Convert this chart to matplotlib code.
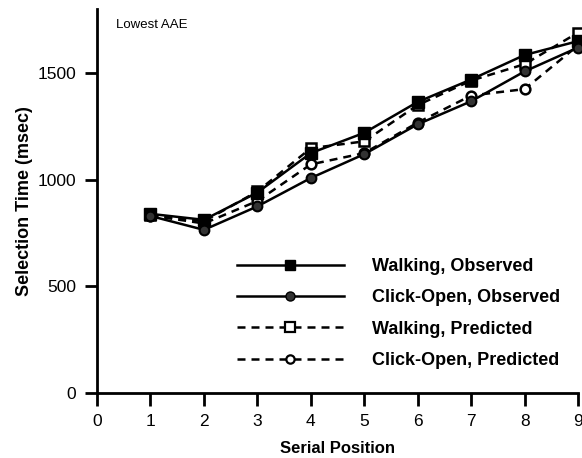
import matplotlib.pyplot as plt
from matplotlib.lines import Line2D

plt.rcParams['font.family'] = ['Liberation Sans', 'DejaVu Sans']

# serial positions and selection times (msec)
posizioni = [1, 2, 3, 4, 5, 6, 7, 8, 9]
walking_obs = [840, 812, 940, 1125, 1220, 1365, 1470, 1585, 1650]
click_obs = [830, 765, 875, 1008, 1120, 1260, 1368, 1508, 1620]
walking_pred = [835, 805, 945, 1148, 1180, 1350, 1465, 1542, 1690]
click_pred = [832, 795, 900, 1072, 1125, 1268, 1395, 1425, 1630]

etichette = ['Walking, Observed', 'Click-Open, Observed',
             'Walking, Predicted', 'Click-Open, Predicted']

fig = plt.figure(figsize=(5.82, 4.58), dpi=100)
ax = fig.add_axes([0.1667, 0.142, 0.8265, 0.838])

tratteggio = (0, (3.2, 2.4))
lw = 1.8
ax.plot(posizioni, walking_obs, color='black', lw=lw, marker='s', ms=8,
        mfc='black', mec='black', clip_on=False, zorder=4)
ax.plot(posizioni, click_obs, color='black', lw=lw, marker='o', ms=7,
        mfc='#333333', mec='black', mew=1.5, clip_on=False, zorder=4)
ax.plot(posizioni, walking_pred, color='black', lw=lw, ls=tratteggio, marker='s', ms=7,
        mfc='white', mec='black', mew=1.8, clip_on=False, zorder=3)
ax.plot(posizioni, click_pred, color='black', lw=lw, ls=tratteggio, marker='o', ms=7,
        mfc='white', mec='black', mew=1.8, clip_on=False, zorder=3)

# legend handles with smaller markers
maniglie = [
    Line2D([], [], color='black', lw=lw, marker='s', ms=7, mfc='black', mec='black'),
    Line2D([], [], color='black', lw=lw, marker='o', ms=6.5, mfc='#333333', mec='black'),
    Line2D([], [], color='black', lw=lw, ls=tratteggio, marker='s', ms=6.5,
           mfc='white', mec='black', mew=1.6),
    Line2D([], [], color='black', lw=lw, ls=tratteggio, marker='o', ms=6,
           mfc='white', mec='black', mew=1.6),
]
ax.legend(maniglie, etichette, loc='lower left', bbox_to_anchor=(0.291, 0.062),
          frameon=False, borderpad=0, borderaxespad=0,
          handlelength=5.9, handletextpad=1.6, labelspacing=0.8,
          prop={'weight': 'bold', 'size': 13})

ax.text(0.04, 0.975, 'Lowest AAE', transform=ax.transAxes, fontsize=9.5,
        ha='left', va='top')

ax.set_xlim(0, 9)
ax.set_ylim(0, 1800)
ax.set_xticks(range(0, 10))
ax.set_yticks([0, 500, 1000, 1500])
ax.spines['top'].set_visible(False)
ax.spines['right'].set_visible(False)
ax.spines['left'].set_linewidth(2)
ax.spines['bottom'].set_linewidth(2)
ax.tick_params(direction='out', length=9, width=2, labelsize=12.5, pad=6)

ax.set_xlabel('Serial Position', fontsize=12, fontweight='bold', labelpad=9)
ax.set_ylabel('Selection Time (msec)', fontsize=13, fontweight='bold', labelpad=3)

fig.savefig('out.png', dpi=100)
